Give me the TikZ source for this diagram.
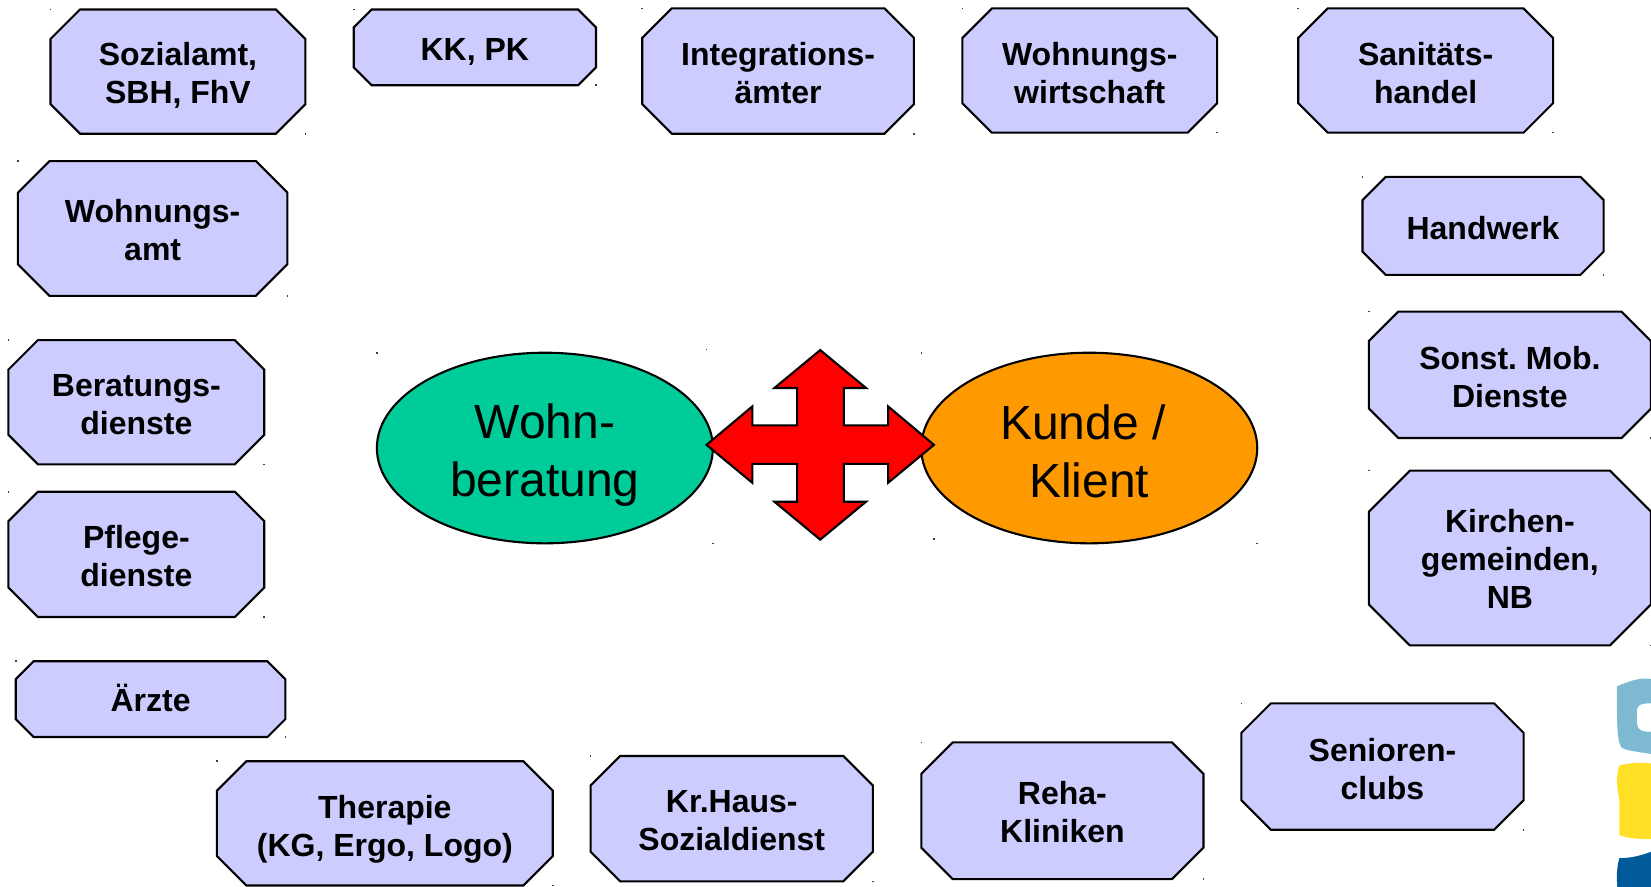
\documentclass[tikz,border=0pt]{standalone}
\usepackage{fontspec}
\setmainfont{Liberation Sans}
\usetikzlibrary{shapes.geometric}
\definecolor{boxc}{HTML}{CCCCFF}
\definecolor{greenc}{HTML}{00CC99}
\definecolor{orangec}{HTML}{FF9900}
\definecolor{logoa}{HTML}{7DBAD2}
\definecolor{logob}{HTML}{FFE027}
\definecolor{logoc}{HTML}{005A9A}
\tikzset{
  octshape/.style={draw=black,fill=boxc,line width=2.1pt,line join=miter},
  octtext/.style={inner sep=0pt,align=center,font=\fontsize{32}{38}\selectfont\bfseries},
  oval/.style={shape=ellipse,draw=black,line width=2.1pt,inner sep=0pt,align=center,
    minimum width=336pt,minimum height=190.6pt},
  ovaltext/.style={inner sep=0pt,align=center,font=\fontsize{48}{58}\selectfont},
  crossarrow/.style={draw=black,fill=red,line width=2.1pt,line join=miter},
  speck/.style={fill=black!75,inner sep=0pt,minimum size=1.6pt,shape=rectangle}
}
% name, left, top, right, bottom, chamfer, text offset, text
\newcommand{\octa}[8]{%
  \draw[octshape] ({#2+#6},#3) -- ({#4-#6},#3) -- (#4,{#3+#6}) -- (#4,{#5-#6}) -- ({#4-#6},#5)
    -- ({#2+#6},#5) -- (#2,{#5-#6}) -- (#2,{#3+#6}) -- cycle;
  \node[octtext] (#1) at ({(#2+#4)/2},{(#3+#5)/2+#7}) {#8};
  \node[speck] (#1a) at (#2,#3) {};
  \node[speck] (#1b) at (#4,#5) {};
}
\begin{document}
\begin{tikzpicture}[x=1.0529pt,y=-1.0529pt]
\useasboundingbox (0,0) rectangle (1568.03,842.42);
\begin{scope}
\clip (0,0) rectangle (1568.03,842.42);
\octa{sozial}{48}{9}{290}{127}{28}{4}{Sozialamt,\\SBH, FhV}
\octa{kk}{336}{9}{566}{81}{17}{4}{KK, PK}
\octa{integ}{610}{8}{868}{127}{28}{2}{Integrations-\\ämter}
\octa{wowi}{914}{8}{1156}{126}{28}{2}{Wohnungs-\\wirtschaft}
\octa{sani}{1233}{8}{1475}{126}{28}{2}{Sanitäts-\\handel}
\octa{woamt}{17}{153}{273}{281}{30}{1.5}{Wohnungs-\\amt}
\octa{hand}{1294}{168}{1523}{261}{22}{2}{Handwerk}
\octa{sonst}{1300}{296}{1568}{416}{28}{2}{Sonst.\hspace{-3pt} Mob.\\Dienste}
\octa{kirche}{1300}{447}{1568}{613}{39}{1}{Kirchen-\\gemeinden,\\NB}
\octa{berat}{8}{323}{251}{441}{28}{2.5}{Beratungs-\\dienste}
\octa{pflege}{8}{467}{251}{586}{28}{2}{Pflege-\\dienste}
\octa{aerzte}{15}{628}{271}{700}{17}{-1}{Ärzte}
\octa{thera}{206}{723}{525}{841}{28}{5.5}{Therapie\\(KG, Ergo, Logo)}
\octa{kr}{561}{718}{829}{837}{28}{2}{Kr.Haus-\\Sozialdienst}
\octa{reha}{875}{705}{1143}{835}{30}{1.5}{Reha-\\Kliniken}
\octa{senior}{1179}{668}{1447}{788}{28}{2}{Senioren-\\clubs}
\end{scope}
% logo
\fill[logoa] (1535.6,652) .. controls (1555,643) and (1565,644) .. (1568,645) -- (1568,668)
  .. controls (1556,668) and (1554,670) .. (1554.6,680) .. controls (1554,692) and (1556,695) .. (1568,695)
  -- (1568,716) .. controls (1555,714) and (1545,713) .. (1540,710) .. controls (1536,703) and (1535.6,695) .. (1535.6,652) -- cycle;
\fill[logob] (1538,727) .. controls (1550,724) and (1560,724) .. (1568,725) -- (1568,797)
  .. controls (1555,797) and (1545,796) .. (1538,793) -- (1538,760) .. controls (1535,745) and (1535,735) .. (1538,727) -- cycle;
\fill[logoc] (1538,815) .. controls (1550,815) and (1560,812) .. (1568,809) -- (1568,842.42) -- (1536,842.42)
  .. controls (1535,830) and (1536,822) .. (1538,815) -- cycle;
% ellipses
\node[oval,fill=greenc] (wohn) at (517.5,425.5) {};
\node[ovaltext] (wohnt) at (517.5,432) {Wohn-\\beratung};
\node[oval,fill=orangec] (kunde) at (1034.5,425.5) {};
\node[ovaltext] (kundet) at (1034.5,429) {Kunde /\rule{12.5pt}{0pt}\\Klient};
\node[speck] (s1) at (358,335) {};
\node[speck] (s2) at (677,516) {};
\node[speck] (s3) at (875,335) {};
\node[speck] (s4) at (1194,516) {};
\node[speck] (s5) at (671,332) {};
\node[speck] (s6) at (887,512) {};
% cross arrow
\draw[crossarrow] (779,332.5) -- (822.5,368.5) -- (801.5,368.5) -- (801.5,404) -- (843.5,404) -- (843.5,386) -- (887,422.5)
 -- (843.5,458.5) -- (843.5,440.5) -- (801.5,440.5) -- (801.5,476.5) -- (822.5,476.5) -- (779,512.5)
 -- (735.5,476.5) -- (757,476.5) -- (757,440.5) -- (714.5,440.5) -- (714.5,458.5) -- (671,422.5)
 -- (714.5,386) -- (714.5,404) -- (757,404) -- (757,368.5) -- (735.5,368.5) -- cycle;
\end{tikzpicture}
\end{document}
